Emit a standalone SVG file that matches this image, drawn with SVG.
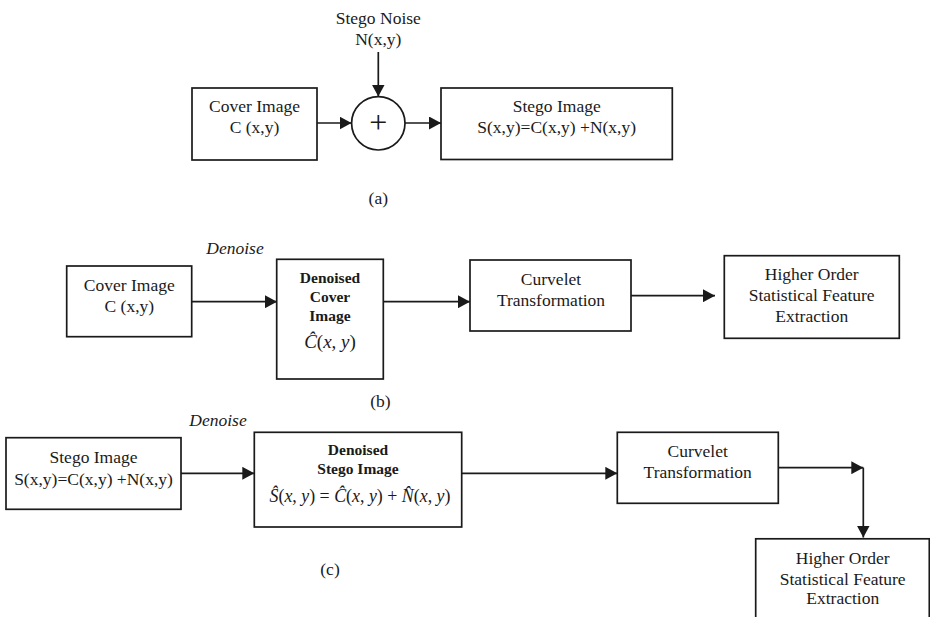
<svg xmlns="http://www.w3.org/2000/svg" width="930" height="617" viewBox="0 0 930 617">
<defs>
<marker id="ah" markerUnits="userSpaceOnUse" markerWidth="13" markerHeight="13" refX="12" refY="6.5" orient="auto">
<path d="M0,0 L12,6.5 L0,13 z" fill="#1a1a1a"/>
</marker>
<style>
.box{fill:#fff;stroke:#1a1a1a;stroke-width:1.7}
.ln{fill:none;stroke:#1a1a1a;stroke-width:1.7}
.t{font-family:"Liberation Serif","Times New Roman",serif;font-size:17.5px;fill:#1a1a1a;text-anchor:middle}
.b{font-family:"Liberation Serif","Times New Roman",serif;font-size:15.5px;font-weight:bold;fill:#1a1a1a;text-anchor:middle}
.i{font-family:"Liberation Serif","Times New Roman",serif;font-size:17.5px;font-style:italic;fill:#1a1a1a;text-anchor:middle}
.m{font-family:"Liberation Serif","Times New Roman",serif;font-size:19px;fill:#1a1a1a;text-anchor:middle}
.m tspan.v{font-style:italic}
</style>
</defs>
<rect width="930" height="617" fill="#fff"/>

<g id="connectors">
<line class="ln" x1="317" y1="123" x2="351.5" y2="123" marker-end="url(#ah)"/>
<line class="ln" x1="378.3" y1="52" x2="378.3" y2="96.5" marker-end="url(#ah)"/>
<line class="ln" x1="405" y1="123" x2="441" y2="123" marker-end="url(#ah)"/>
<line class="ln" x1="192" y1="301.7" x2="277" y2="301.7" marker-end="url(#ah)"/>
<line class="ln" x1="383.3" y1="301.7" x2="470" y2="301.7" marker-end="url(#ah)"/>
<line class="ln" x1="631" y1="295.7" x2="715" y2="295.7" marker-end="url(#ah)"/>
<line class="ln" x1="181" y1="473.3" x2="254.3" y2="473.3" marker-end="url(#ah)"/>
<line class="ln" x1="461.7" y1="473.3" x2="617.3" y2="473.3" marker-end="url(#ah)"/>
<line class="ln" x1="778.3" y1="467.7" x2="863.3" y2="467.7" marker-end="url(#ah)"/>
<line class="ln" x1="863.3" y1="467.7" x2="863.3" y2="537.5" marker-end="url(#ah)"/>
</g>

<g id="a-noise">
<text class="t" x="378.3" y="24">Stego Noise</text>
<text class="t" x="378.3" y="45">N(x,y)</text>
</g>
<g id="a-cover">
<rect class="box" x="192" y="88" width="125" height="72"/>
<text class="t" x="254.5" y="111.7">Cover Image</text>
<text class="t" x="254.5" y="133">C (x,y)</text>
</g>
<g id="a-sum">
<circle class="ln" cx="378.3" cy="123.3" r="26.7"/>
<text class="t" x="378.3" y="133" style="font-size:32px">+</text>
</g>
<g id="a-stego">
<rect class="box" x="441" y="88" width="231.3" height="71.5"/>
<text class="t" x="556.7" y="111.7">Stego Image</text>
<text class="t" x="556.7" y="133.3">S(x,y)=C(x,y) +N(x,y)</text>
</g>
<text class="t" x="378.3" y="203.5">(a)</text>

<text class="i" x="235" y="254">Denoise</text>
<g id="b-cover">
<rect class="box" x="66.7" y="266" width="125" height="70.7"/>
<text class="t" x="129.3" y="291">Cover Image</text>
<text class="t" x="129.3" y="311.7">C (x,y)</text>
</g>
<g id="b-denoised">
<rect class="box" x="276.7" y="259.3" width="106.6" height="119.7"/>
<text class="b" x="330" y="283.3">Denoised</text>
<text class="b" x="330" y="301.7">Cover</text>
<text class="b" x="330" y="321">Image</text>
<text class="m" x="330" y="348.3"><tspan class="v">Ĉ</tspan>(<tspan class="v">x</tspan>, <tspan class="v">y</tspan>)</text>
</g>
<g id="b-curvelet">
<rect class="box" x="470" y="260" width="161" height="71"/>
<text class="t" x="551" y="285">Curvelet</text>
<text class="t" x="551" y="306">Transformation</text>
</g>
<g id="b-higher">
<rect class="box" x="724.3" y="255.7" width="175" height="82.6"/>
<text class="t" x="811.7" y="280">Higher Order</text>
<text class="t" x="811.7" y="301">Statistical Feature</text>
<text class="t" x="811.7" y="322">Extraction</text>
</g>
<text class="t" x="380.5" y="406.5">(b)</text>

<text class="i" x="218" y="425.7">Denoise</text>
<g id="c-stego">
<rect class="box" x="6" y="437.7" width="175" height="71.6"/>
<text class="t" x="93.5" y="463.3">Stego Image</text>
<text class="t" x="93.5" y="485">S(x,y)=C(x,y) +N(x,y)</text>
</g>
<g id="c-denoised">
<rect class="box" x="254.3" y="432.3" width="207.4" height="94.7"/>
<text class="b" x="358" y="455">Denoised</text>
<text class="b" x="358" y="474">Stego Image</text>
<text class="m" x="360" y="501.7" textLength="181" lengthAdjust="spacingAndGlyphs"><tspan class="v">Ŝ</tspan>(<tspan class="v">x</tspan>, <tspan class="v">y</tspan>) = <tspan class="v">Ĉ</tspan>(<tspan class="v">x</tspan>, <tspan class="v">y</tspan>) + <tspan class="v">N̂</tspan>(<tspan class="v">x</tspan>, <tspan class="v">y</tspan>)</text>
</g>
<g id="c-curvelet">
<rect class="box" x="617.3" y="432.3" width="161" height="71"/>
<text class="t" x="697.7" y="457.3">Curvelet</text>
<text class="t" x="697.7" y="478.3">Transformation</text>
</g>
<g id="c-higher">
<rect class="box" x="755.7" y="538.8" width="173.6" height="100"/>
<text class="t" x="842.7" y="564.3">Higher Order</text>
<text class="t" x="842.7" y="585">Statistical Feature</text>
<text class="t" x="842.7" y="604">Extraction</text>
</g>
<text class="t" x="330" y="575">(c)</text>
</svg>
